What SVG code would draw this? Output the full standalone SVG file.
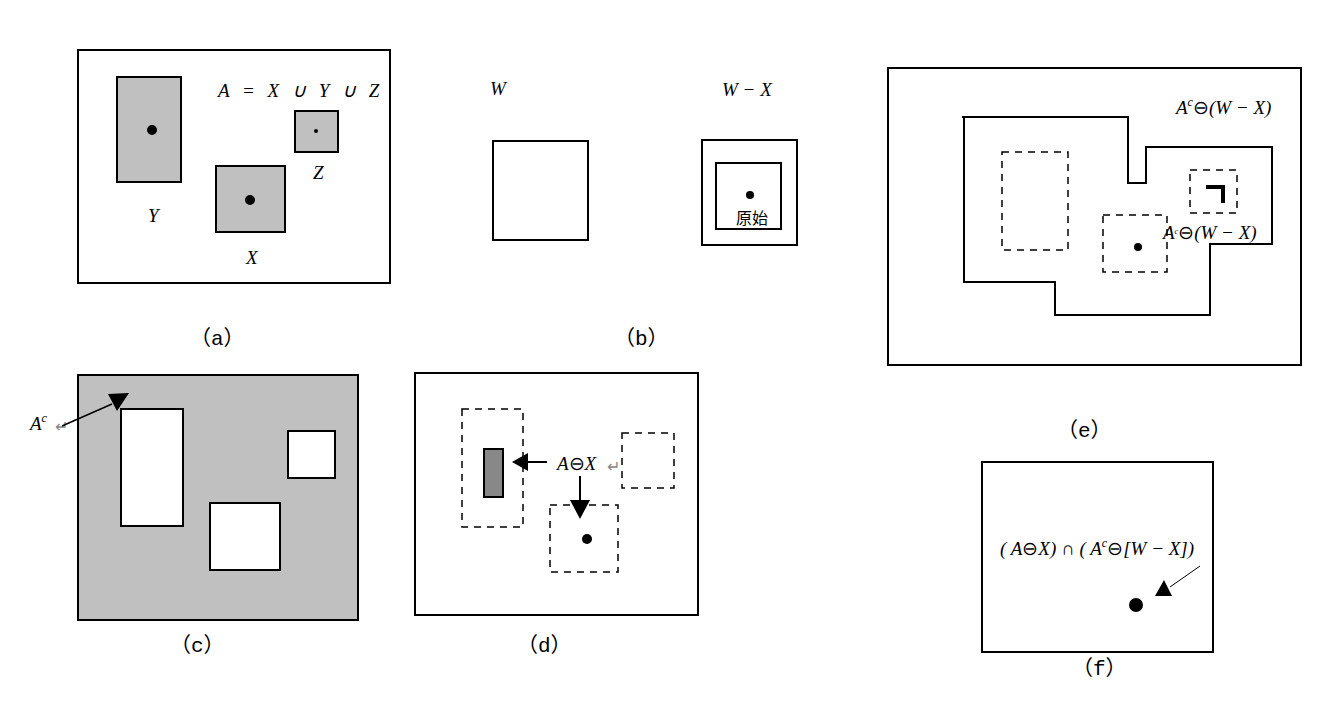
<svg xmlns="http://www.w3.org/2000/svg" width="1338" height="710" viewBox="0 0 1338 710">
<style>
.f{fill:none;stroke:#000;stroke-width:2}
.d{fill:none;stroke:#000;stroke-width:1.5;stroke-dasharray:7,6}
.g{fill:#c0c0c0;stroke:#000;stroke-width:2}
.w{fill:#fff;stroke:#000;stroke-width:2}
.m{font-family:"Liberation Serif",serif;font-style:italic;font-size:19px}
.o{font-style:normal}
.l{font-family:"Liberation Mono","Noto Sans CJK SC",monospace;font-size:21px}
.c{font-family:"Liberation Sans","Noto Sans CJK SC",sans-serif;font-size:16px}
</style>
<rect width="1338" height="710" fill="#fff"/>
<g id="a">
<rect class="f" x="78" y="50" width="312" height="233"/>
<rect class="g" x="117" y="77" width="64" height="105"/><circle cx="152" cy="130" r="5"/>
<rect class="g" x="295" y="111" width="43" height="41"/><circle cx="316" cy="131" r="2"/>
<rect class="g" x="216" y="166" width="69" height="66"/><circle cx="250" cy="200" r="5"/>
<text class="m" x="218" y="97" letter-spacing="4">A = X ∪ Y ∪ Z</text>
<text class="m" x="148" y="222">Y</text><text class="m" x="313" y="179">Z</text><text class="m" x="246" y="264">X</text>
<text class="l" x="190" y="345">（a）</text>
</g>
<g id="b">
<text class="m" x="490" y="95">W</text><text class="m" x="722" y="96">W − X</text>
<rect class="f" x="493" y="141" width="95" height="99"/>
<rect class="f" x="702" y="140" width="95" height="105"/>
<rect class="f" x="716" y="163" width="65" height="66"/><circle cx="750" cy="195" r="4"/>
<text class="c" x="736" y="224">原始</text>
<text class="l" x="614" y="345">（b）</text>
</g>
<g id="c">
<rect class="g" x="78" y="375" width="280" height="245"/>
<rect class="w" x="121" y="409" width="62" height="117"/>
<rect class="w" x="288" y="431" width="47" height="47"/>
<rect class="w" x="210" y="503" width="70" height="67"/>
<text class="m" x="30" y="430">A<tspan font-size="12" dy="-8">c</tspan></text>
<text class="c" x="55" y="432" fill="#888" font-size="13">↵</text>
<text class="l" x="170" y="652">（c）</text>
</g>
<g id="d">
<rect class="f" x="415" y="373" width="283" height="242"/>
<rect class="d" x="462" y="409" width="61" height="118"/>
<rect x="484" y="449" width="19" height="48" fill="#888" stroke="#000" stroke-width="2"/>
<rect class="d" x="622" y="433" width="52" height="55"/>
<rect class="d" x="550" y="505" width="68" height="67"/><circle cx="587" cy="539" r="5"/>
<text class="m" x="557" y="470">A<tspan class="o">⊖</tspan>X</text>
<text class="c" x="607" y="472" fill="#888" font-size="13">↵</text>
<text class="l" x="517" y="652">（d）</text>
</g>
<g id="e">
<rect class="f" x="888" y="68" width="413" height="297"/>
<path class="f" d="M962,117H1128V183H1146V147H1272V244H1210V315H1055V282H964V117"/>
<rect class="d" x="1002" y="152" width="66" height="98"/>
<rect class="d" x="1103" y="215" width="64" height="57"/><circle cx="1138" cy="247" r="4"/>
<rect class="d" x="1190" y="170" width="47" height="43"/>
<path d="M1206,187H1223V203" fill="none" stroke="#000" stroke-width="4"/>
<text class="m" x="1176" y="114">A<tspan font-size="12" dy="-8">c</tspan><tspan class="o" dy="8">⊖</tspan>(W − X)</text>
<text class="m" x="1163" y="239" font-size="12">A<tspan font-size="8" dy="-5">c</tspan><tspan class="o" dy="5">⊖</tspan>(W − X)</text>
<text class="l" x="1057" y="437">（e）</text>
</g>
<g id="f">
<rect class="f" x="982" y="462" width="231" height="190"/>
<text class="m" x="1000" y="555">( A<tspan class="o">⊖</tspan>X) ∩ ( A<tspan font-size="12" dy="-8">c</tspan><tspan class="o" dy="8">⊖</tspan>[W − X])</text>
<circle cx="1136" cy="605" r="7"/>
<path d="M1155,596L1164,580L1172,596Z"/>
<text class="l" x="1072" y="675">（f）</text>
</g>
<g id="connectors">
<path d="M62,426L112,404" stroke="#000" stroke-width="1.5"/><path d="M108,394L129,393L117,411Z"/>
<path d="M547,462H525" stroke="#000" stroke-width="2"/><path d="M512,462L528,453L528,471Z"/>
<path d="M580,476V505" stroke="#000" stroke-width="2"/><path d="M570,500H590L580,519Z"/>
<path d="M1200,566L1170,587" stroke="#000" stroke-width="1"/>
</g>
</svg>
